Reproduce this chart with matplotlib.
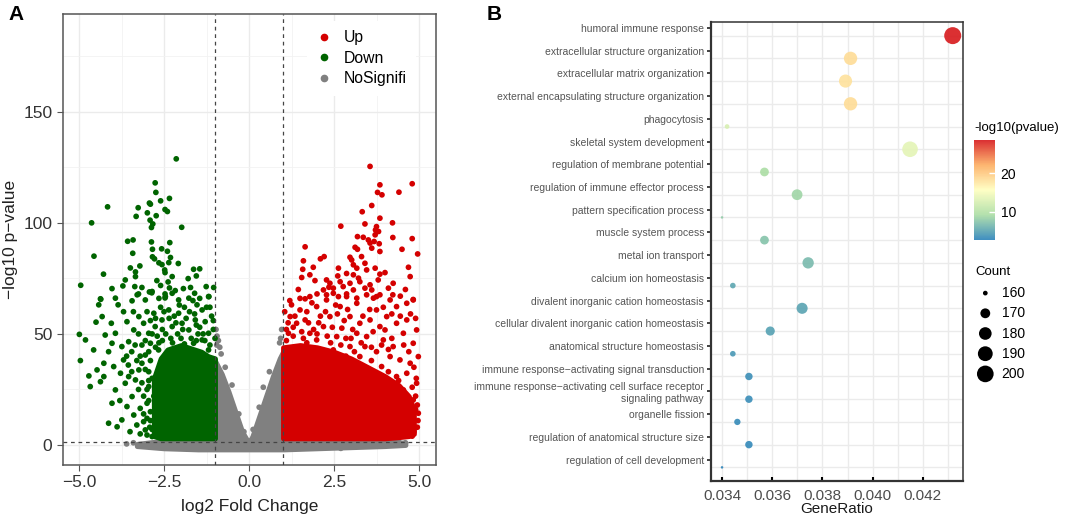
import numpy as np
import matplotlib
matplotlib.use("Agg")
import matplotlib.pyplot as plt
from matplotlib.colors import LinearSegmentedColormap, Normalize
from matplotlib.lines import Line2D

plt.rcParams['font.family'] = ['Liberation Sans', 'DejaVu Sans']

# ---------------- panel A : volcano plot ----------------
# dense cores (upper / lower envelope of the solid mass of points)
gray_x = [-3.3, -2.5, -1.5, -1.02, -1.0, -0.8, -0.6, -0.4, -0.2, -0.05, 0.0, 0.1, 0.3, 0.5, 0.7, 0.9, 1.0, 1.02, 2.0, 3.0, 4.0, 4.6]
gray_top = [0.5, 2, 2.5, 2.5, 38, 32, 24, 15, 6, 2, 1, 4, 13, 22, 31, 39, 42, 2.5, 2.5, 2.2, 1.8, 1]
gray_bot = [-0.5, -1.5, -2, -2, -2, -2, -2, -2, -2, -2, -2, -2, -2, -2, -2, -2, -2, -2, -1.5, -1, -0.5, 0]

down_x = [-2.8, -2.6, -2.4, -2.2, -2.0, -1.8, -1.6, -1.4, -1.2, -1.0]
down_top = [30, 39, 43, 44, 45, 44, 43, 42, 40, 39]
down_bot = [4, 3, 3, 3, 3, 3, 3, 3, 3, 3]

up_x = [1.0, 1.5, 2.0, 2.5, 3.0, 3.5, 4.0, 4.4, 4.7, 4.85]
up_top = [44, 45, 44, 42, 39, 35, 31, 27, 22, 16]
up_bot = [3, 3, 3, 3, 3, 3, 3, 3.5, 4, 5]

# individual points
down_pts = [
    (-2.14, 128.8), (-2.76, 118.0), (-2.74, 113.7), (-2.60, 109.9), (-2.34, 111.0), (-2.93, 108.9), (-2.90, 108.4),
    (-3.26, 106.8), (-4.16, 107.2), (-2.99, 104.5), (-2.73, 103.2), (-2.47, 106.0), (-2.40, 105.1), (-3.32, 102.9),
    (-2.91, 101.2), (-2.83, 99.5), (-2.87, 97.9), (-4.63, 100.0), (-1.98, 98.0), (-3.57, 91.7), (-3.41, 92.3),
    (-2.87, 91.4), (-2.33, 91.1), (-4.56, 85.0), (-3.42, 86.3), (-2.84, 88.1), (-2.57, 88.3), (-2.40, 87.2),
    (-2.84, 84.7), (-2.78, 83.8), (-2.31, 84.4), (-2.65, 82.0), (-2.56, 81.2), (-2.36, 82.1), (-2.08, 81.7),
    (-3.49, 79.7), (-3.21, 80.6), (-3.34, 77.9), (-2.48, 78.8), (-2.47, 77.6), (-1.63, 79.1), (-1.45, 79.3),
    (-4.28, 76.9), (-3.64, 74.3), (-3.34, 75.8), (-2.26, 75.8), (-1.79, 74.9), (-1.55, 76.1), (-4.95, 71.9),
    (-4.03, 70.4), (-3.71, 71.6), (-3.36, 71.3), (-3.15, 70.9), (-2.71, 74.0), (-2.60, 71.8), (-2.38, 73.4),
    (-2.34, 70.7), (-1.93, 70.4), (-1.72, 70.9), (-1.26, 71.3), (-1.04, 70.9), (-3.25, 68.0), (-2.93, 68.9),
    (-2.86, 68.5), (-2.17, 69.5), (-1.60, 68.3), (-1.18, 66.8), (-4.36, 65.6), (-2.47, 68.0), (-2.47, 66.2),
    (-4.37, 65.8), (-3.85, 63.1), (-3.44, 64.9), (-3.29, 67.6), (-3.05, 65.3), (-2.85, 69.1), (-2.46, 66.8),
    (-2.26, 68.3), (-2.07, 65.3), (-1.77, 66.1), (-1.38, 60.8), (-1.19, 66.8), (-1.53, 63.1), (-4.50, 55.3),
    (-4.32, 57.8), (-4.05, 54.8), (-3.93, 50.3), (-4.23, 49.5), (-4.99, 49.8), (-4.81, 47.3), (-4.57, 42.8),
    (-4.96, 38.0), (-4.71, 31.1), (-4.67, 26.3), (-4.47, 33.8), (-4.27, 36.8), (-4.13, 42.0), (-4.03, 45.8),
    (-3.74, 44.3), (-3.69, 38.3), (-3.54, 46.5), (-3.59, 55.5), (-3.39, 51.8), (-3.24, 57.8), (-3.10, 54.8),
    (-2.95, 50.3), (-2.80, 59.3), (-2.56, 56.3), (-2.36, 60.8), (-2.26, 53.3), (-1.97, 54.8), (-1.77, 51.8),
    (-1.58, 56.3), (-1.29, 55.5), (-1.19, 50.3), (-4.27, 30.8), (-3.93, 24.8), (-4.03, 18.8), (-4.13, 9.8),
    (-3.88, 8.2), (-3.74, 11.3), (-3.59, 17.3), (-3.44, 21.8), (-3.34, 29.3), (-3.24, 33.8), (-3.15, 36.8),
    (-3.05, 40.5), (-3.54, 30.8), (-3.64, 27.8), (-3.78, 32.3), (-3.39, 13.5), (-3.20, 16.5), (-3.05, 6.8),
    (-2.85, 3.8), (-3.10, 10.5), (-3.98, 35.3), (-4.37, 28.5), (-2.95, 26.3), (-3.00, 18.8), (-2.90, 45.8),
    (-2.76, 53.3), (-2.66, 42.8), (-4.42, 63.1), (-3.69, 60.0), (-2.07, 59.3), (-1.38, 47.3), (-1.63, 45.8),
    (-1.19, 42.8), (-3.93, 66.1), (-2.2, 58), (-1.9, 62), (-1.6, 59), (-2.6, 62), (-2.9, 56), (-1.45, 53),
    (-2.45, 50), (-2.1, 50), (-1.1, 58), (-1.85, 57), (-2.0, 48), (-1.7, 48), (-1.3, 47), (-2.3, 48),
    (-2.55, 47), (-2.75, 44), (-2.9, 38), (-2.95, 33), (-2.85, 30), (-3.0, 25), (-3.1, 22), (-2.9, 15),
    (-3.0, 12), (-2.92, 8), (-3.2, 5), (-2.8, 22), (-3.3, 38), (-3.45, 42), (-1.5, 50), (-1.0, 48),
    (-1.05, 52), (-1.15, 62), (-2.7, 49), (-3.15, 45), (-3.6, 40), (-3.8, 20), (-3.5, 6),
    (-1.15, 45), (-1.35, 50), (-1.55, 54), (-1.75, 60), (-1.95, 52), (-2.15, 55), (-2.35, 57), (-2.55, 52),
    (-2.75, 57), (-2.5, 60), (-2.05, 63), (-1.65, 65), (-1.25, 62), (-1.05, 56), (-2.65, 46), (-2.85, 50),
    (-3.05, 47), (-3.25, 50), (-3.35, 45), (-3.2, 40), (-3.05, 34), (-2.95, 29), (-3.25, 25), (-3.15, 28),
    (-2.95, 20), (-3.1, 14), (-2.9, 11), (-3.3, 9), (-3.0, 4.5), (-2.85, 7), (-3.45, 33), (-3.55, 36),
    (-1.9, 45.5), (-1.55, 47), (-2.25, 46), (-2.95, 42), (-3.4, 60), (-3.0, 60), (-1.45, 66), (-2.65, 66),
]

up_pts = [
    (3.56, 125.4), (3.85, 117.1), (4.80, 117.6), (3.78, 113.7), (3.91, 112.6), (4.41, 113.8), (3.61, 107.8),
    (3.33, 105.0), (3.85, 102.1), (3.41, 99.5), (4.22, 100.0), (2.70, 98.5), (3.75, 98.3), (3.72, 96.8),
    (3.81, 96.1), (3.19, 93.8), (3.36, 93.5), (3.51, 92.3), (3.71, 94.6), (3.68, 91.6), (4.23, 93.4),
    (4.80, 92.9), (1.65, 89.2), (3.12, 89.0), (3.19, 88.1), (3.56, 90.9), (3.83, 90.6), (3.61, 88.6),
    (3.85, 87.1), (4.50, 88.1), (4.96, 86.0), (2.10, 83.8), (2.21, 84.8), (2.97, 84.5), (3.02, 83.3),
    (3.31, 84.8), (1.60, 82.9), (1.89, 80.0), (1.58, 79.1), (2.63, 79.6), (3.07, 81.1), (3.17, 79.6),
    (3.46, 78.8), (3.71, 79.6), (3.41, 81.8), (4.69, 80.0), (4.00, 77.6), (1.79, 76.6), (1.55, 75.4),
    (2.61, 76.1), (2.87, 77.2), (3.07, 76.6), (3.22, 75.1), (3.85, 76.9), (4.74, 75.8), (1.94, 74.0),
    (2.28, 74.3), (2.38, 72.8), (2.68, 73.5), (2.97, 72.8), (3.26, 73.5), (3.56, 72.1), (3.80, 74.3),
    (4.24, 72.8), (2.19, 69.8), (2.48, 70.6), (2.77, 71.3), (3.07, 69.8), (3.41, 70.6), (3.61, 69.8),
    (4.10, 70.6), (1.79, 66.8), (1.65, 65.8), (2.28, 67.6), (2.63, 66.8), (2.87, 68.0), (3.17, 66.1),
    (3.66, 66.1), (3.85, 67.6), (4.23, 67.6), (4.83, 65.5), (1.25, 63.1), (1.50, 60.8), (1.21, 57.8),
    (1.40, 54.8), (1.16, 50.3), (1.65, 56.3), (1.99, 62.3), (2.28, 65.3), (2.48, 68.3), (2.68, 62.3),
    (2.87, 66.8), (3.17, 63.8), (3.46, 67.6), (3.75, 66.8), (4.15, 65.3), (4.34, 62.3), (4.64, 63.8),
    (4.83, 65.3), (2.97, 57.8), (3.26, 54.8), (3.56, 56.3), (3.85, 53.3), (4.05, 57.8), (4.34, 54.8),
    (4.64, 56.3), (4.93, 51.8), (3.17, 50.3), (3.46, 48.8), (3.95, 47.3), (4.24, 44.3), (4.54, 50.3),
    (4.83, 45.8), (4.98, 39.8), (4.74, 36.8), (4.44, 38.3), (4.15, 39.8), (3.75, 42.0), (3.90, 35.3),
    (4.34, 30.8), (4.64, 32.3), (4.93, 27.8), (4.83, 20.3), (4.98, 14.3), (4.74, 9.8), (4.54, 24.8),
    (4.15, 26.3), (3.26, 39.8), (2.97, 44.3), (2.58, 48.8), (2.19, 53.3), (1.99, 47.3), (1.79, 50.3),
    (2.38, 57.8), (2.73, 52.6), (3.41, 44.3), (3.75, 60.8), (4.00, 51.8), (2.48, 42.8), (2.14, 42.8),
    (1.1, 47), (1.3, 49), (1.6, 48), (1.9, 52), (2.3, 49), (2.7, 45), (3.1, 42), (3.6, 38), (4.1, 33),
    (4.4, 29), (4.6, 22), (4.9, 16), (4.95, 8), (4.85, 6), (4.6, 14), (4.3, 18), (4.0, 22), (3.8, 30),
    (3.3, 36), (2.85, 40), (1.3, 53), (1.7, 60), (2.1, 58), (2.6, 59), (3.0, 48), (3.9, 45), (4.7, 42),
    (4.2, 48), (1.05, 60), (1.5, 66),
    (1.15, 55), (1.35, 58), (1.55, 51), (1.75, 55), (1.85, 64), (2.05, 55), (2.25, 60), (2.45, 53),
    (2.55, 63), (2.8, 56), (2.9, 61), (3.05, 52), (3.35, 58), (3.55, 61), (3.65, 51), (3.95, 62),
    (4.2, 59), (4.45, 58), (4.75, 59), (4.9, 57), (1.2, 65), (1.45, 70), (2.0, 68), (2.35, 71),
    (4.45, 67), (4.6, 70), (1.1, 52), (1.7, 46), (2.0, 50), (2.4, 46), (2.85, 48), (3.3, 46),
    (3.6, 44), (4.1, 43), (4.55, 45), (4.85, 35), (4.92, 30), (4.8, 26), (4.9, 22), (4.95, 18),
    (4.97, 11), (4.8, 4), (4.5, 5), (4.65, 8),
]

nosig_pts = [
    (-0.97, 52), (-0.94, 49), (-0.9, 47), (-0.86, 44), (-0.95, 45), (-0.82, 41), (0.96, 52), (0.93, 48),
    (0.9, 46), (0.42, 26), (-0.5, 27), (-0.3, 14), (0.3, 17), (0.6, 33), (-0.7, 35), (-0.15, 6), (0.12, 7),
    (-3.4, 1), (-3.6, 0.5), (4.4, 1.5), (4.6, 1), (2.7, -1.5), (-1.8, -1.5),
]

fc_cut = 1.0
p_cut = 1.3

# ---------------- panel B : GO enrichment ----------------
terms = [
    "humoral immune response",
    "extracellular structure organization",
    "extracellular matrix organization",
    "external encapsulating structure organization",
    "phagocytosis",
    "skeletal system development",
    "regulation of membrane potential",
    "regulation of immune effector process",
    "pattern specification process",
    "muscle system process",
    "metal ion transport",
    "calcium ion homeostasis",
    "divalent inorganic cation homeostasis",
    "cellular divalent inorganic cation homeostasis",
    "anatomical structure homeostasis",
    "immune response\u2212activating signal transduction",
    "immune response\u2212activating cell surface receptor\nsignaling pathway",
    "organelle fission",
    "regulation of anatomical structure size",
    "regulation of cell development",
]
gene_ratio = [0.04319, 0.03912, 0.03892, 0.03912, 0.0342, 0.04149, 0.03569, 0.03699, 0.0340, 0.03569,
              0.03743, 0.03443, 0.03719, 0.03592, 0.03443, 0.03507, 0.03507, 0.03461, 0.03507, 0.0340]
counts = [202, 183, 182, 183, 160, 194, 167, 173, 159, 167, 175, 161, 174, 168, 161, 164, 164, 162, 164, 159]
log_p = [28.7, 18.5, 18.0, 18.5, 12.5, 13.6, 9.2, 8.6, 7.8, 7.2, 6.6, 5.2, 5.0, 4.8, 4.2, 3.5, 3.4, 3.2, 3.1, 2.6]
count_breaks = [160, 170, 180, 190, 200]

W, H = 1065, 516
fig = plt.figure(figsize=(W / 100, H / 100), dpi=100)


def box(l, t, r, b):
    return [l / W, 1 - b / H, (r - l) / W, (b - t) / H]


# ---- A ----
axA = fig.add_axes(box(62.7, 14, 436, 465))
red, green, grey = '#d40000', '#006400', '#808080'
dot = 17

axA.fill_between(gray_x, gray_bot, gray_top, color=grey, lw=3.5, zorder=2)
p = np.array(nosig_pts)
axA.scatter(p[:, 0], p[:, 1], s=dot, color=grey, edgecolors='none', zorder=2)
axA.fill_between(down_x, down_bot, down_top, color=green, lw=3.5, zorder=3)
p = np.array(down_pts)
axA.scatter(p[:, 0], p[:, 1], s=dot, color=green, edgecolors='none', zorder=3)
axA.fill_between(up_x, up_bot, up_top, color=red, lw=3.5, zorder=3)
p = np.array(up_pts)
axA.scatter(p[:, 0], p[:, 1], s=dot, color=red, edgecolors='none', zorder=3)

for v in (-fc_cut, fc_cut):
    axA.axvline(v, color='#444444', ls=(0, (3, 3)), lw=0.9, zorder=5)
axA.axhline(p_cut, color='#444444', ls=(0, (3, 3)), lw=0.9, zorder=5)

axA.set_xlim(-5.48, 5.5)
axA.set_ylim(-9, 194)
axA.set_xticks([-5, -2.5, 0, 2.5, 5])
axA.set_xticklabels(['\u22125.0', '\u22122.5', '0.0', '2.5', '5.0'])
axA.set_xticks([-3.75, -1.25, 1.25, 3.75], minor=True)
axA.set_yticks([0, 50, 100, 150])
axA.set_yticks([25, 75, 125, 175], minor=True)
axA.grid(True, which='major', color='#ebebeb', lw=1.0)
axA.grid(True, which='minor', color='#f2f2f2', lw=0.6)
axA.set_axisbelow(True)
axA.tick_params(which='major', labelsize=12.5, length=4, color='#555555', labelcolor='#333333')
axA.tick_params(which='minor', length=0)
for s in axA.spines.values():
    s.set_color('#555555')
    s.set_linewidth(1.1)
axA.set_xlabel('log2 Fold Change', fontsize=12.5, color='#222222', labelpad=6)
axA.set_ylabel('\u2212log10 p\u2212value', fontsize=12.5, color='#222222', labelpad=4)

handles = [Line2D([], [], marker='o', ls='none', color=c, markersize=4.5) for c in (red, green, grey)]
leg = axA.legend(handles, ['Up', 'Down', 'NoSignifi'], loc='upper left', bbox_to_anchor=(0.655, 0.985),
                 fontsize=11.3, frameon=True, facecolor='white', edgecolor='none', framealpha=1,
                 handlelength=1.0, handletextpad=0.7, labelspacing=0.35, borderpad=0.6, borderaxespad=0)
leg.set_zorder(6)

fig.text(8 / W, 1 - 15 / H, 'A', fontsize=15, fontweight='bold', va='center')

# ---- B ----
axB = fig.add_axes(box(711, 22, 963, 481))
cmap = LinearSegmentedColormap.from_list('spec5', ['#2B83BA', '#ABDDA4', '#FFFFBF', '#FDAE61', '#D7191C'])
norm = Normalize(vmin=min(log_p), vmax=max(log_p))
cmin, cmax = min(counts), max(counts)


def dot_size(c):
    d = 2.5 + 14.5 * np.sqrt((np.asarray(c, float) - cmin) / (cmax - cmin))
    return (d * 0.72) ** 2


rows = np.arange(1, len(terms) + 1)
sc = axB.scatter(gene_ratio, rows, s=dot_size(counts), c=log_p, cmap=cmap, norm=norm,
                 alpha=0.9, edgecolors='none', zorder=3)
axB.set_xlim(0.03356, 0.0436)
axB.set_ylim(len(terms) + 0.6, 0.4)
axB.set_xticks([0.034, 0.036, 0.038, 0.040, 0.042])
axB.set_xticklabels(['0.034', '0.036', '0.038', '0.040', '0.042'])
axB.set_xticks([0.035, 0.037, 0.039, 0.041, 0.043], minor=True)
axB.set_yticks(rows - 0.34)
axB.set_yticklabels(terms, fontsize=7.5, color='#555555', ha='right', multialignment='right')
axB.set_yticks(rows, minor=True)
axB.grid(True, which='both', color='#ebebeb', lw=1.0)
axB.yaxis.grid(False, which='major')
axB.set_axisbelow(True)
axB.tick_params(axis='x', which='major', labelsize=11, labelcolor='#4d4d4d', direction='in', length=3, width=1.5, pad=6)
axB.tick_params(axis='y', which='major', length=3, width=1.2, color='#222222', pad=2)
axB.tick_params(which='minor', length=0)
for s in axB.spines.values():
    s.set_color('#333333')
    s.set_linewidth(1.1)
axB.spines['left'].set_linewidth(1.6)
axB.spines['bottom'].set_linewidth(1.6)
axB.set_xlabel('GeneRatio', fontsize=11, color='#1a1a1a', labelpad=-1)

fig.text(487 / W, 1 - 15 / H, 'B', fontsize=15, fontweight='bold', va='center')

# colour bar
cax = fig.add_axes(box(974, 140, 995, 240))
cb = fig.colorbar(sc, cax=cax)
cb.set_ticks([10, 20])
cb.outline.set_visible(False)
cb.ax.tick_params(length=4, color='white', width=1, direction='in', labelsize=10, pad=4)
fig.text(974 / W, 1 - 128 / H, '-log10(pvalue)', fontsize=9.5, va='center')

# size legend
fig.text(975 / W, 1 - 272 / H, 'Count', fontsize=9.5, va='center')
lax = fig.add_axes(box(975, 283, 1060, 384))
lax.set_xlim(0, 85)
lax.set_ylim(205, 155)
lax.axis('off')
lax.scatter([10.3] * len(count_breaks), count_breaks, s=dot_size(count_breaks), color='black', edgecolors='none')
for v in count_breaks:
    lax.text(26.7, v, str(v), fontsize=10, va='center', ha='left')

fig.savefig('out.png', dpi=100)
